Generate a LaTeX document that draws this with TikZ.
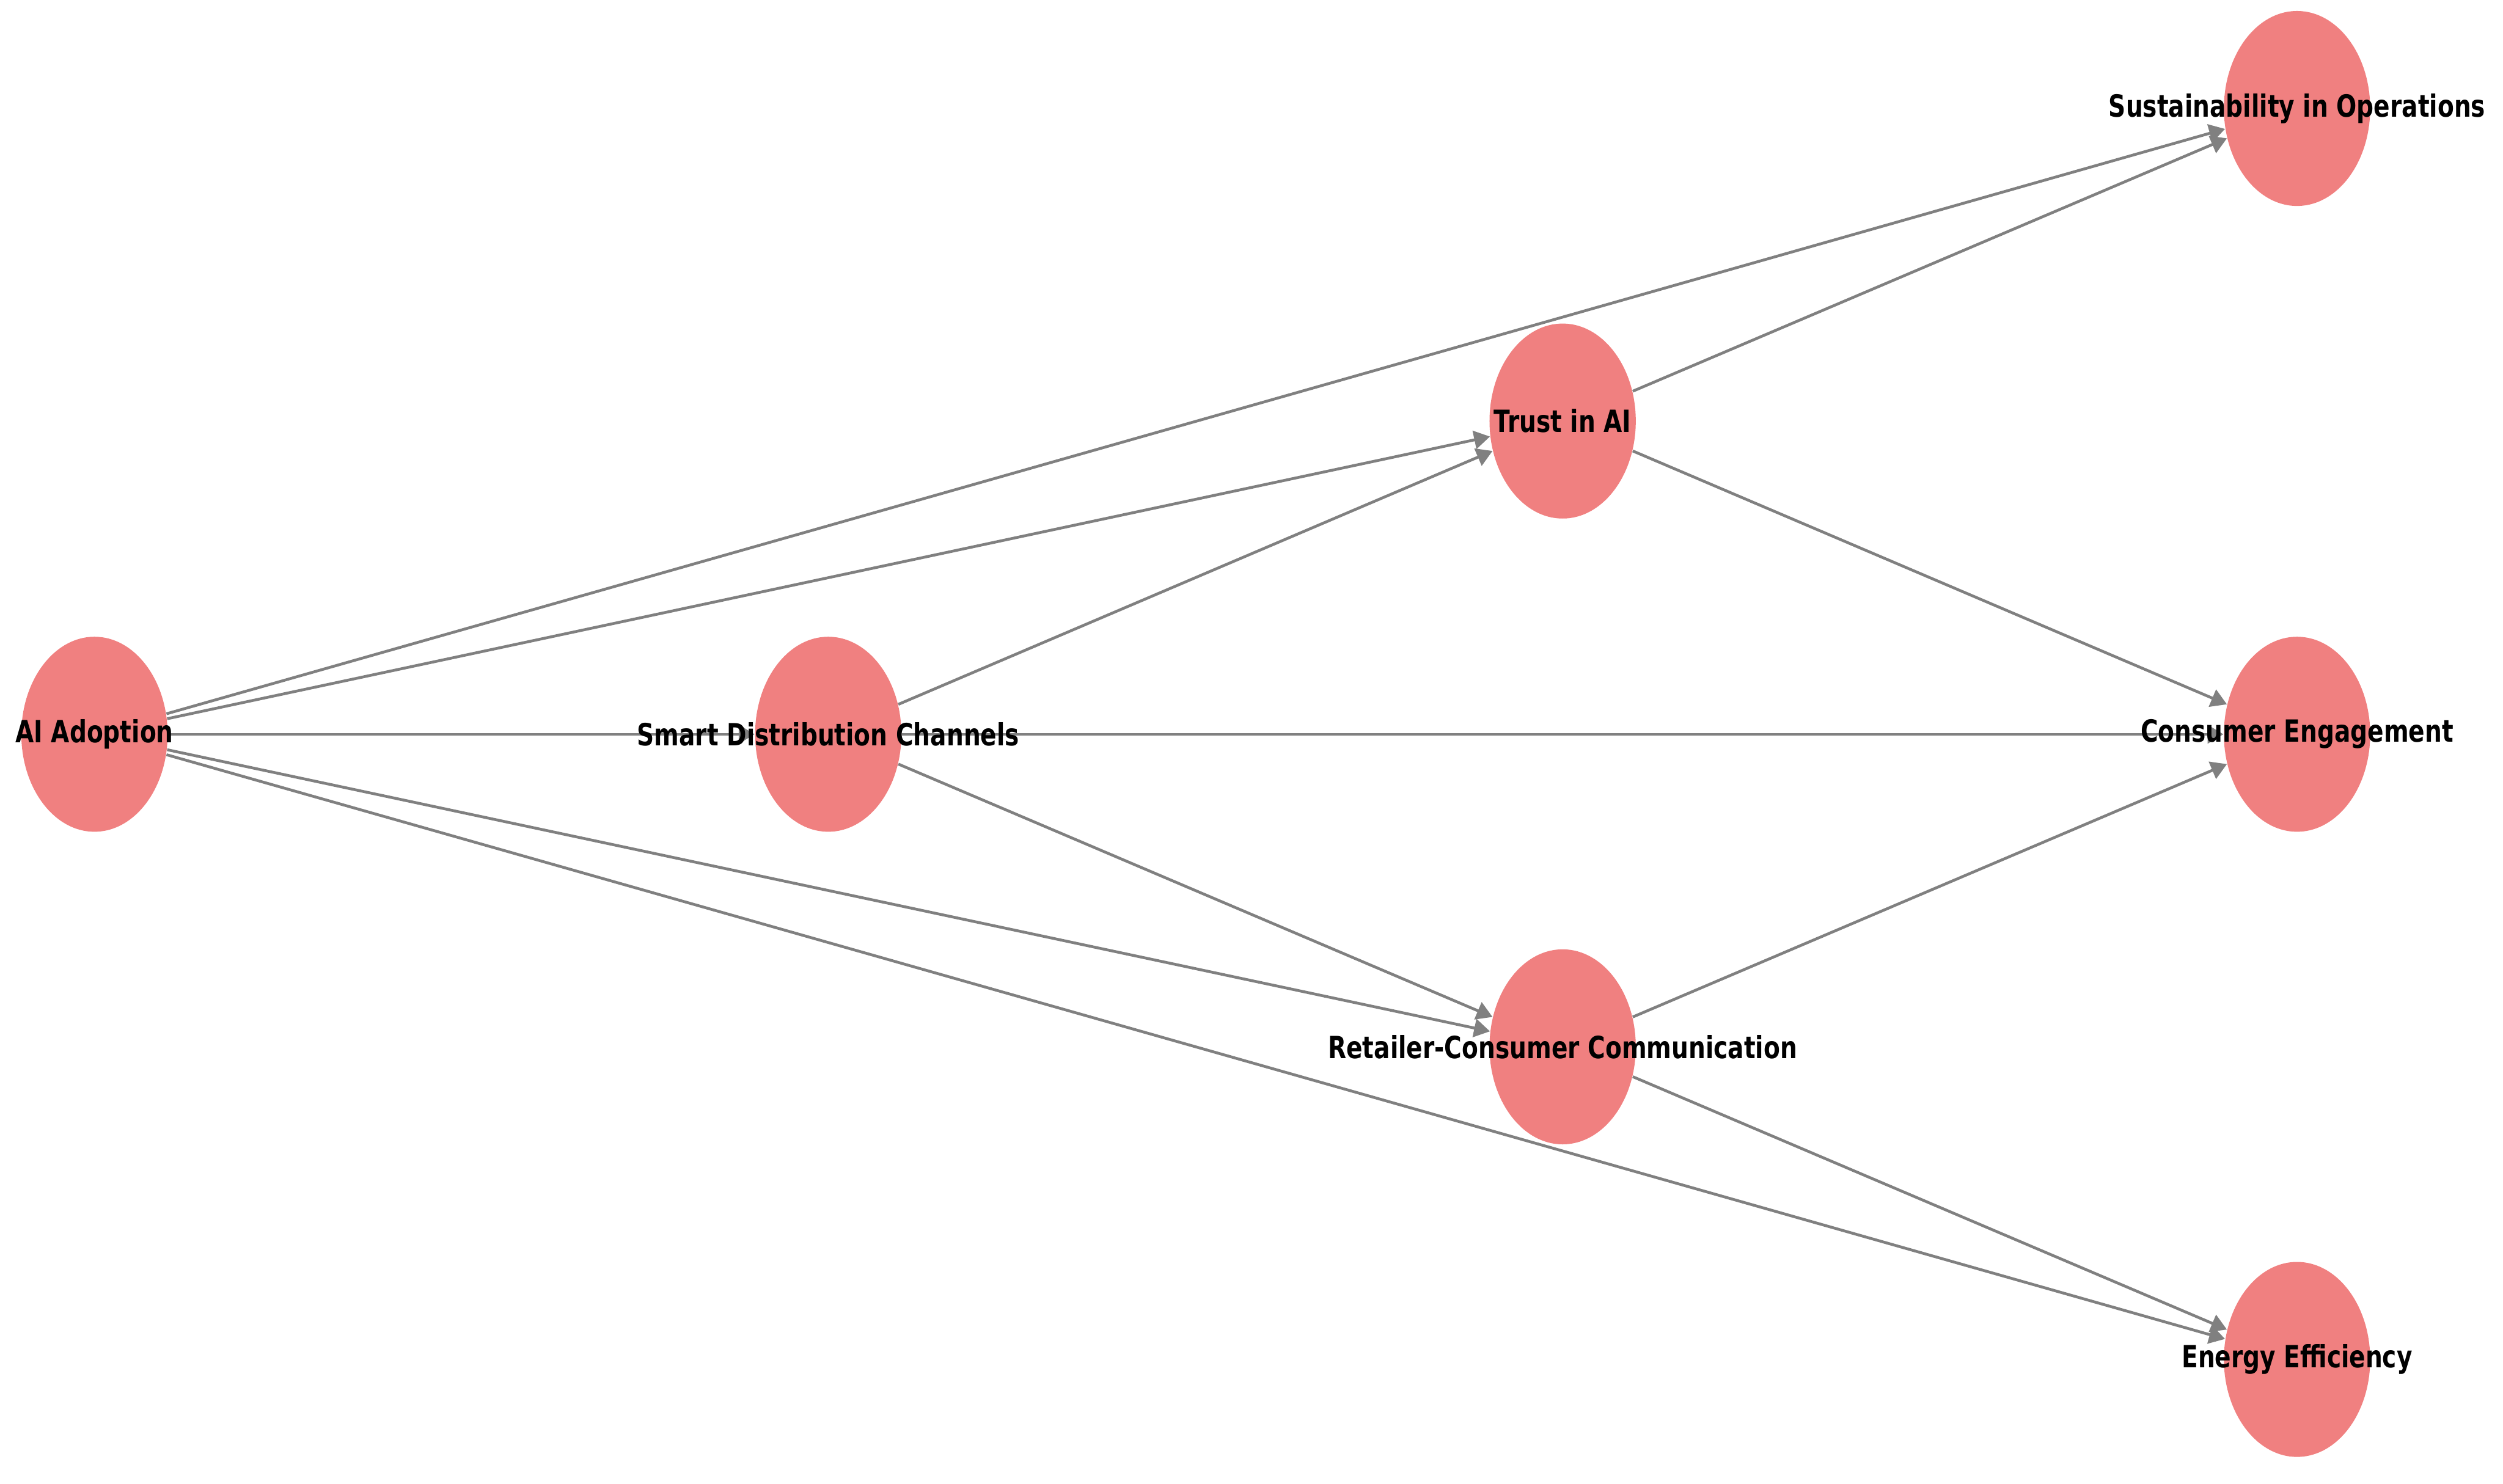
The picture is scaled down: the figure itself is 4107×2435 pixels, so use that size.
\documentclass[tikz,border=0pt]{standalone}
\usepackage{fontspec}
\usepackage{graphicx}
\setmainfont{DejaVu Sans}
\usetikzlibrary{shapes.geometric,arrows.meta}
\pgfdeclarelayer{background}
\pgfsetlayers{background,main}
\definecolor{nodefill}{HTML}{F08080}
\definecolor{edgecol}{HTML}{808080}
\newcommand{\tallbold}[1]{\scalebox{1}[1.28]{#1}}
\tikzset{
  blob/.style={ellipse, fill=nodefill, draw=none, minimum width=60pt, minimum height=80pt, inner sep=0pt},
  lbl/.style={font=\fontsize{9.8}{12}\selectfont\bfseries, text=black, inner sep=0pt},
  link/.style={draw=edgecol, line width=1.15pt, -{Triangle[length=6.5pt,width=7.5pt]}},
}
\begin{document}
\begin{tikzpicture}[x=0.25pt,y=-0.25pt]
\useasboundingbox (0,0) rectangle (4107,2435);
\node[blob] (ai) at (155,1205) {};
\node[blob] (sdc) at (1359,1205) {};
\node[blob] (tru) at (2564,691) {};
\node[blob] (rcc) at (2564,1718) {};
\node[blob] (sus) at (3769,178) {};
\node[blob] (ce) at (3769,1205) {};
\node[blob] (ee) at (3769,2231) {};
\begin{pgfonlayer}{background}
\draw[link] (ai) -- (sus);
\draw[link] (ai) -- (tru);
\draw[link] (ai) -- (sdc);
\draw[link] (ai) -- (rcc);
\draw[link] (ai) -- (ee);
\draw[link] (sdc) -- (tru);
\draw[link] (sdc) -- (ce);
\draw[link] (sdc) -- (rcc);
\draw[link] (tru) -- (sus);
\draw[link] (tru) -- (ce);
\draw[link] (rcc) -- (ce);
\draw[link] (rcc) -- (ee);
\end{pgfonlayer}
\node[lbl] (ait) at (ai) {\tallbold{AI Adoption}};
\node[lbl] (sdct) at (sdc) {\tallbold{Smart Distribution Channels}};
\node[lbl] (trut) at (tru) {\tallbold{Trust in AI}};
\node[lbl] (rcct) at (rcc) {\tallbold{Retailer-Consumer Communication}};
\node[lbl] (sust) at (sus) {\tallbold{Sustainability in Operations}};
\node[lbl] (cet) at (ce) {\tallbold{Consumer Engagement}};
\node[lbl] (eet) at (ee) {\tallbold{Energy Efficiency}};
\end{tikzpicture}
\end{document}
